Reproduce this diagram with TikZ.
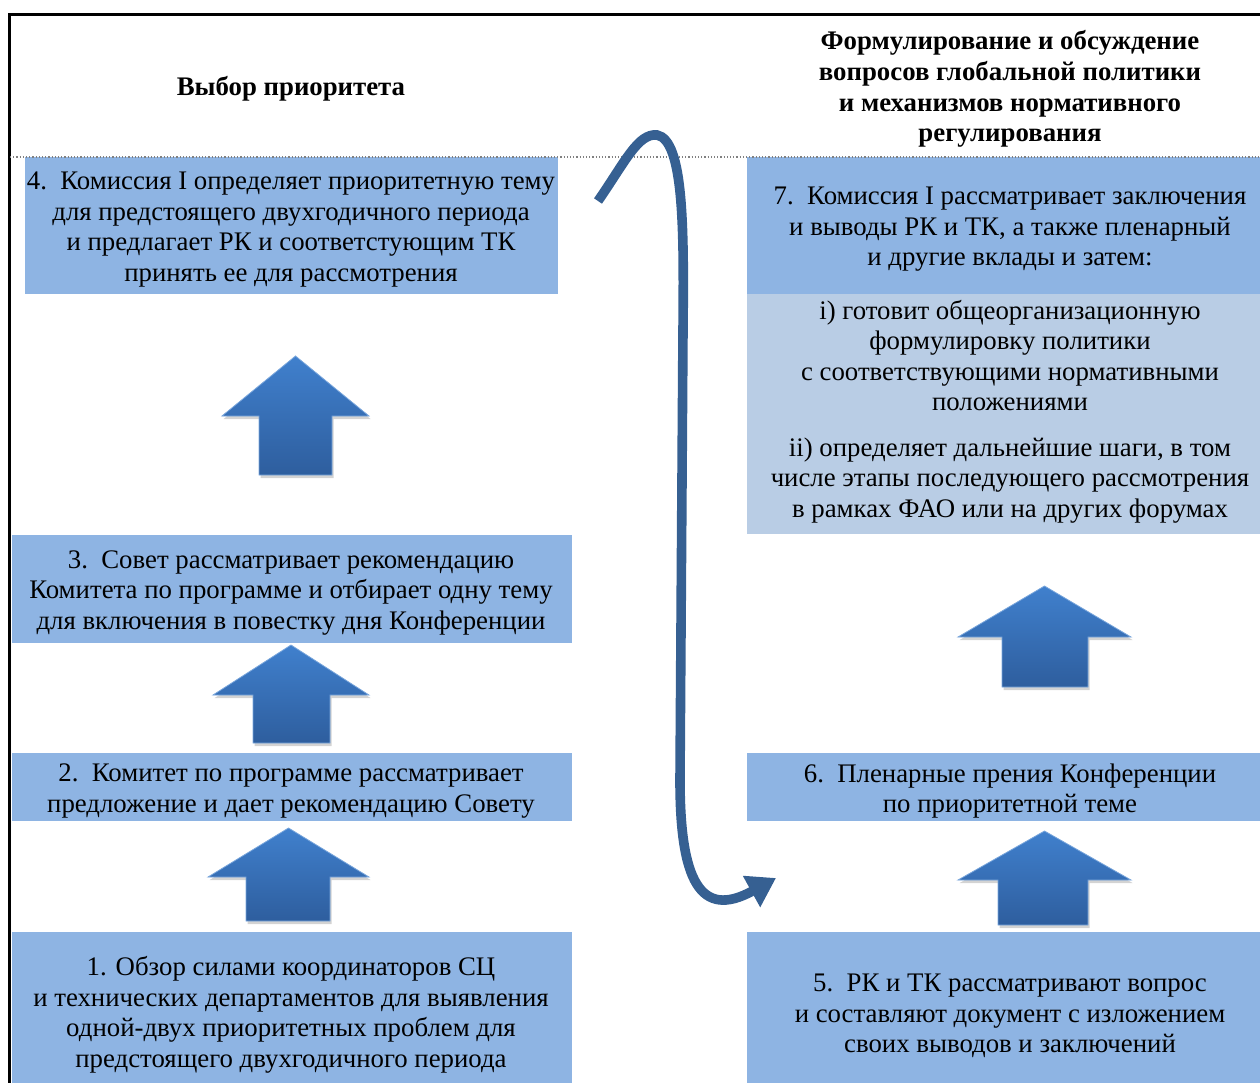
\documentclass[tikz,border=0pt]{standalone}
\usepackage{fontspec}
\setmainfont{Liberation Serif}
\usetikzlibrary{arrows.meta,shadows}

\definecolor{boxblue}{RGB}{142,180,227}
\definecolor{boxpale}{RGB}{185,205,229}
\definecolor{arrtop}{RGB}{64,128,205}
\definecolor{arrbot}{RGB}{46,94,158}
\definecolor{loopblue}{RGB}{54,96,146}

\begin{document}
\begin{tikzpicture}[x=0.5pt,y=-0.5pt,
  txt/.style={font=\fontsize{13.4}{15.25}\selectfont,align=center,inner sep=0pt},
  head/.style={txt,font=\fontsize{13.4}{15.3}\selectfont\bfseries},
  uparr/.style={top color=arrtop,bottom color=arrbot,draw=arrtop!70!white,line width=0.4pt,
    drop shadow={opacity=0.35,shadow xshift=0.8pt,shadow yshift=-1.5pt}}]
   \useasboundingbox (0,0) rectangle (1260,1083);
   % cell fills
   \fill[boxblue] (25,157) rectangle (558,294);
   \fill[boxblue] (12,535) rectangle (572,643);
   \fill[boxblue] (12,753) rectangle (572,821);
   \fill[boxblue] (12,932) rectangle (572,1083);
   \fill[boxblue] (747,157) rectangle (1260,294);
   \fill[boxpale] (747,294) rectangle (1260,534);
   \fill[boxblue] (747,753) rectangle (1260,821);
   \fill[boxblue] (747,932) rectangle (1260,1083);
   % frame
   \draw[line width=1.5pt] (9,1083) -- (9,14) -- (1260,14);
   \draw[gray,densely dotted,line width=0.6pt] (10,157) -- (1260,157);
   % headings
   \node[head] (h1) at (291,89) {Выбор приоритета};
   \node[head] (h2) at (1010,89) {Формулирование и обсуждение\\
     вопросов глобальной политики\\и механизмов нормативного\\регулирования};
   % left column
   \node[txt] (t4) at (291,229.5)
     {4.\ \ Комиссия I определяет приоритетную тему\\для предстоящего двухгодичного периода\\
      и предлагает РК и соответстующим ТК\\принять ее для рассмотрения};
   \node[txt] (t3) at (291,593)
     {3.\ \ Совет рассматривает рекомендацию\\Комитета по программе и отбирает одну тему\\
      для включения в повестку дня Конференции};
   \node[txt] (t2) at (291,791)
     {2.\ \ Комитет по программе рассматривает\\предложение и дает рекомендацию Совету};
   \node[txt] (t1) at (291,1015)
     {1. Обзор силами координаторов СЦ\\и технических департаментов для выявления\\
      одной-двух приоритетных проблем для\\предстоящего двухгодичного периода};
   % right column
   \node[txt] (t7) at (1010,229.5)
     {7.\ \ Комиссия I рассматривает заключения\\и выводы РК и ТК, а также пленарный\\и другие вклады и затем:};
   \node[txt] (t7a) at (1010,411.5)
     {i) готовит общеорганизационную\\формулировку политики\\с соответствующими нормативными\\положениями\\[7.5pt]
      ii) определяет дальнейшие шаги, в том\\числе этапы последующего рассмотрения\\в рамках ФАО или на других форумах};
   \node[txt] (t6) at (1010,791)
     {6.\ \ Пленарные прения Конференции\\по приоритетной теме};
   \node[txt] (t5) at (1010,1016)
     {5.\ \ РК и ТК рассматривают вопрос\\и составляют документ с изложением\\своих выводов и заключений};
   % block arrows
   \foreach \l/\r/\sl/\sr/\tip/\sh/\bot in {222/369/259/332/356/416/475,
       213/369/253/330/645/695/743, 208/369/246/330/828/877/921,
       958/1131/1002/1088/586/637/687, 958/1131/998/1088/831/880/925}
     \path[uparr] ({(\l+\r)/2},\tip) -- (\r,\sh) -- (\sr,\sh) -- (\sr,\bot)
       -- (\sl,\bot) -- (\sl,\sh) -- (\l,\sh) -- cycle;
   % loop arrow
   \coordinate (s) at (598,201);
   \coordinate (e) at (776,878);
   \draw[loopblue,line width=4.8pt,-{Triangle[width=17pt,length=14pt]}]
     (s) .. controls (625,162) and (638,133) .. (657,135)
         .. controls (684,140) and (684,230) .. (683,330)
         -- (680,780)
         .. controls (680,880) and (700,920) .. (e);
\end{tikzpicture}
\end{document}
